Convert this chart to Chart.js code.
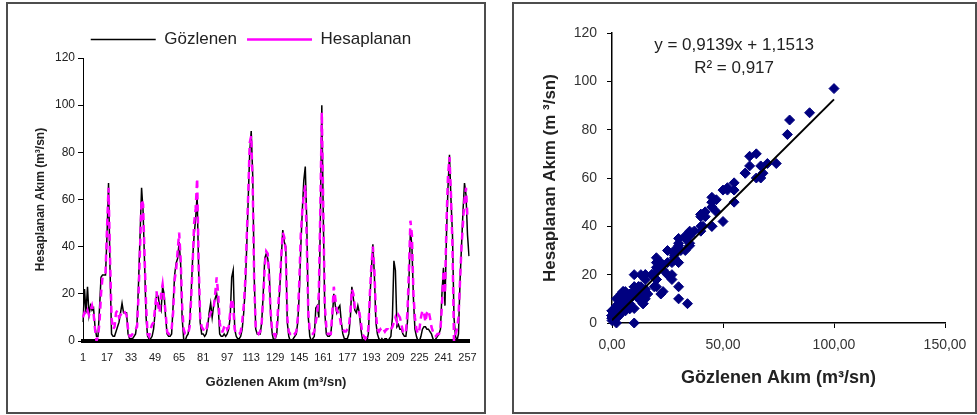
<!DOCTYPE html>
<html><head><meta charset="utf-8">
<script src="https://cdn.jsdelivr.net/npm/chart.js@4"></script>
<style>
html,body{margin:0;padding:0;background:#fff;width:977px;height:415px;overflow:hidden;}
.frame{position:absolute;box-sizing:border-box;border:2px solid #4d4d4d;}
canvas{position:absolute;}
</style></head><body>
<div class="frame" style="left:6px;top:2px;width:480px;height:412px"></div>
<div class="frame" style="left:512px;top:2px;width:465px;height:412px"></div>
<canvas id="c1" width="477" height="409" style="left:7px;top:3px"></canvas>
<canvas id="c2" width="464" height="409" style="left:513px;top:3px"></canvas>
<script>
// ---- data ----
const OBSERVED = [
  8,22,12,23,11,15,13,14,6,2,
  2,14,27,28,28,28,45,67,30,3,
  2,2,4,6,8,12,16,12,12,12,
  3,1,1,1,2,3,8,25,45,65,
  55,33,10,2,1,1,2,5,12,20,
  19,15,13,23,20,10,3,2,2,3,
  15,28,33,35,42,33,10,1,0,2,
  3,8,20,35,45,52,62,30,8,3,
  3,2,3,6,12,16,10,15,18,20,
  15,3,2,2,3,2,3,5,10,27,
  30,5,2,1,1,2,5,12,22,40,
  60,80,89,70,27,5,3,3,3,8,
  20,35,37,35,30,10,3,0,1,3,
  12,22,35,47,42,40,8,2,0,0,
  1,2,3,8,20,40,55,68,74,50,
  10,2,0,1,2,14,15,10,50,100,
  52,12,3,2,2,3,10,20,15,12,
  14,15,8,3,1,1,1,3,10,23,
  18,13,12,15,12,5,1,0,0,0,
  3,18,30,41,28,8,3,1,0,1,
  0,1,1,0,1,2,10,34,30,6,
  7,5,5,3,2,2,8,25,47,40,
  18,5,2,0,0,2,5,6,6,5,
  5,4,3,1,0,1,2,3,5,20,
  31,15,45,65,79,60,45,10,2,0,
  3,25,40,55,67,62,45,36
];
const COMPUTED = [
  10,12,11,13,11,13,15,12,5,0,
  2,8,20,27,28,29,48,65,35,10,
  5,6,12,13,10,11,12,13,12,11,
  5,2,2,3,4,5,6,20,40,60,
  58,36,15,3,2,5,7,8,14,21,
  15,12,20,24,18,12,4,3,3,5,
  12,26,30,38,46,35,15,5,3,3,
  3,6,18,33,50,56,69,33,10,6,
  5,4,4,8,10,12,13,14,20,27,
  20,8,4,4,6,7,5,6,12,18,
  15,5,3,3,3,4,8,15,25,44,
  62,84,87,66,25,6,4,3,4,8,
  18,32,38,37,25,12,4,3,2,5,
  15,24,36,46,44,38,10,4,3,3,
  4,3,4,10,25,45,55,62,66,42,
  12,4,3,3,4,8,12,20,55,97,
  55,15,6,3,3,3,12,23,18,13,
  12,10,6,5,4,4,5,6,12,22,
  20,14,13,13,12,8,3,2,1,2,
  5,20,32,40,30,12,5,4,5,4,
  5,4,5,5,4,5,6,8,10,8,
  11,10,7,4,3,4,12,30,51,45,
  20,10,5,3,5,10,13,12,8,12,
  13,10,6,4,2,2,3,3,5,15,
  30,20,50,70,78,62,40,0,3,5,
  10,25,40,50,60,65,52,null
];
const CATEGORIES = Array.from({length: OBSERVED.length}, (_, i) => String(i + 1));
const X_TICK_LABELS = ['1','17','33','49','65','81','97','113','129','145','161','177','193','209','225','241','257'];
const SERIES_NAMES = ['Gözlenen', 'Hesaplanan'];
const LEFT_X_TITLE = 'Gözlenen Akım (m³/sn)';
const LEFT_Y_TITLE = 'Hesaplanan Akım (m³/sn)';
const RIGHT_X_TITLE = 'Gözlenen Akım (m³/sn)';
const RIGHT_Y_TITLE = 'Hesaplanan Akım (m ³/sn)';
const TREND_SLOPE = 0.9139;
const TREND_INTERCEPT = 1.1513;
const EQUATION_TEXT = 'y = 0,9139x + 1,1513';
const R2_TEXT = 'R² = 0,917';

// ---- derived ----
const SCATTER_POINTS = OBSERVED.map((o, i) => ({x: o, y: COMPUTED[i]})).filter(p => p.y !== null);
const xMaxObs = Math.max(...OBSERVED);
const TREND_POINTS = [
  {x: 0, y: TREND_INTERCEPT},
  {x: xMaxObs, y: TREND_SLOPE * xMaxObs + TREND_INTERCEPT}
];

const FONT = "'Liberation Sans', Arial, Helvetica, sans-serif";
Chart.defaults.font.family = FONT;
Chart.defaults.color = '#222';

new Chart(document.getElementById('c1'), {
  type: 'line',
  data: {
    labels: CATEGORIES,
    datasets: [
      {label: SERIES_NAMES[0], data: OBSERVED, borderColor: '#000000', backgroundColor: '#000000',
       borderWidth: 1.5, pointRadius: 0, tension: 0, order: 1},
      {label: SERIES_NAMES[1], data: COMPUTED, borderColor: '#ff00ff', backgroundColor: '#ff00ff',
       borderWidth: 2.5, borderDash: [7, 5], pointRadius: 0, tension: 0, order: 0}
    ]
  },
  options: {
    responsive: false, animation: false, devicePixelRatio: 1,
    layout: {padding: {left: 26, right: 15, top: 13, bottom: 18}},
    plugins: {
      legend: {
        display: true, position: 'top',
        labels: {usePointStyle: true, pointStyle: 'line', pointStyleWidth: 65,
                 font: {size: 17}, color: '#222', padding: 10,
                 sort: (a, b) => a.datasetIndex - b.datasetIndex}
      },
      tooltip: {enabled: false}
    },
    scales: {
      x: {
        ticks: {autoSkip: false, maxRotation: 0, minRotation: 0, font: {size: 11}, color: '#222', padding: 5,
                callback: function(v) { const l = CATEGORIES[v]; return X_TICK_LABELS.includes(l) ? l : ''; }},
        grid: {display: true, drawOnChartArea: false, drawTicks: true, tickLength: 5, color: 'rgba(0,0,0,0)'},
        border: {display: true, color: '#000', width: 4},
        title: {display: true, text: LEFT_X_TITLE, font: {size: 13, weight: 'bold'}, color: '#222', padding: {top: 4, bottom: 4}},
        afterFit: s => { s.height = 53; }
      },
      y: {
        min: 0, max: 120,
        ticks: {stepSize: 20, font: {size: 12}, color: '#222', padding: 3},
        grid: {drawOnChartArea: false, drawTicks: true, tickLength: 5, color: '#000'},
        border: {color: '#000', width: 1},
        title: {display: true, text: LEFT_Y_TITLE, font: {size: 12, weight: 'bold'}, color: '#222', padding: {top: 0, bottom: 0}},
        afterFit: s => { s.width = 50; s.paddingTop = 55; }
      }
    }
  }
});

const equationPlugin = {
  id: 'equationText',
  afterDatasetsDraw(chart) {
    const {ctx, scales} = chart;
    const cx = scales.x.getPixelForValue(55);
    ctx.save();
    ctx.font = '17px ' + FONT;
    ctx.fillStyle = '#222';
    ctx.textAlign = 'center';
    ctx.textBaseline = 'middle';
    ctx.fillText(EQUATION_TEXT, cx, scales.y.getPixelForValue(115));
    ctx.fillText(R2_TEXT, cx, scales.y.getPixelForValue(105.5));
    ctx.restore();
  }
};

new Chart(document.getElementById('c2'), {
  type: 'scatter',
  data: {
    datasets: [
      {label: 'Trend', data: TREND_POINTS, showLine: true, borderColor: '#000', borderWidth: 2,
       pointRadius: 0, order: 0},
      {label: SERIES_NAMES[1], data: SCATTER_POINTS, backgroundColor: '#000080', borderColor: '#000080',
       pointStyle: 'rectRot', pointRadius: 5, borderWidth: 1, order: 1, clip: false}
    ]
  },
  options: {
    responsive: false, animation: false, devicePixelRatio: 1,
    layout: {padding: {left: 27, right: 32, top: 30, bottom: 19}},
    plugins: {legend: {display: false}, tooltip: {enabled: false}},
    scales: {
      x: {
        type: 'linear', min: 0, max: 150,
        ticks: {stepSize: 50, font: {size: 14}, color: '#333', padding: 9,
                callback: v => v.toFixed(2).replace('.', ',')},
        grid: {drawOnChartArea: false, drawTicks: true, tickLength: 5, color: '#000'},
        border: {color: '#000', width: 1.5},
        title: {display: true, text: RIGHT_X_TITLE, font: {size: 18, weight: 'bold'}, color: '#222', padding: {top: 4, bottom: 4}},
        afterFit: s => { s.height = 70; }
      },
      y: {
        min: 0, max: 120,
        ticks: {stepSize: 20, font: {size: 14}, color: '#333', padding: 10},
        grid: {drawOnChartArea: false, drawTicks: true, tickLength: 5, color: '#000'},
        border: {color: '#000', width: 1.5},
        title: {display: true, text: RIGHT_Y_TITLE, font: {size: 17, weight: 'bold'}, color: '#222', padding: {top: 0, bottom: 0}},
        afterFit: s => { s.width = 72; }
      }
    }
  },
  plugins: [equationPlugin]
});
</script>
</body></html>
